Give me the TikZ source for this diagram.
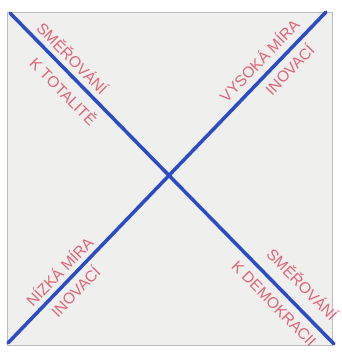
\documentclass[tikz,border=0pt]{standalone}
\usepackage{fontspec}
\setmainfont{Liberation Sans}
\definecolor{inkblue}{HTML}{2B4CC4}
\definecolor{inkred}{HTML}{E0647A}
\definecolor{paper}{HTML}{EFEFED}
\definecolor{edge}{HTML}{BDBDBD}
\tikzset{
  lbl/.style={text=inkred, font=\fontsize{15.5}{17}\selectfont, inner sep=0pt},
  diag/.style={draw=inkblue, line width=3.5pt, line cap=round},
}
\begin{document}
\begin{tikzpicture}[x=1pt,y=-1pt]
\useasboundingbox (0,0) rectangle (341,352);
\fill[white] (0,0) rectangle (341,352);
\filldraw[fill=paper, draw=edge, line width=0.8pt] (7,12) rectangle (332,345);
\coordinate (tl) at (10,13);
\coordinate (br) at (334,344);
\coordinate (tr) at (326,12);
\coordinate (bl) at (8,343);
\draw[diag] (tl) -- (br);
\draw[diag] (bl) -- (tr);
\node[lbl, rotate=-45.6] (a1) at (73,58) {SMĚŘOVÁNÍ};
\node[lbl, rotate=-45.6] (a2) at (64,91) {K TOTALITĚ};
\node[lbl, rotate=46] (b1) at (259,60) {VYSOKÁ MÍRA};
\node[lbl, rotate=46] (b2) at (289,69) {INOVACÍ};
\node[lbl, rotate=46] (c1) at (59,271) {NÍZKÁ MÍRA};
\node[lbl, rotate=46] (c2) at (75,291) {INOVACÍ};
\node[lbl, rotate=-45.6] (d1) at (303,284) {SMĚŘOVÁNÍ};
\node[lbl, rotate=-45.6] (d2) at (274,304) {K DEMOKRACII};
\end{tikzpicture}
\end{document}
